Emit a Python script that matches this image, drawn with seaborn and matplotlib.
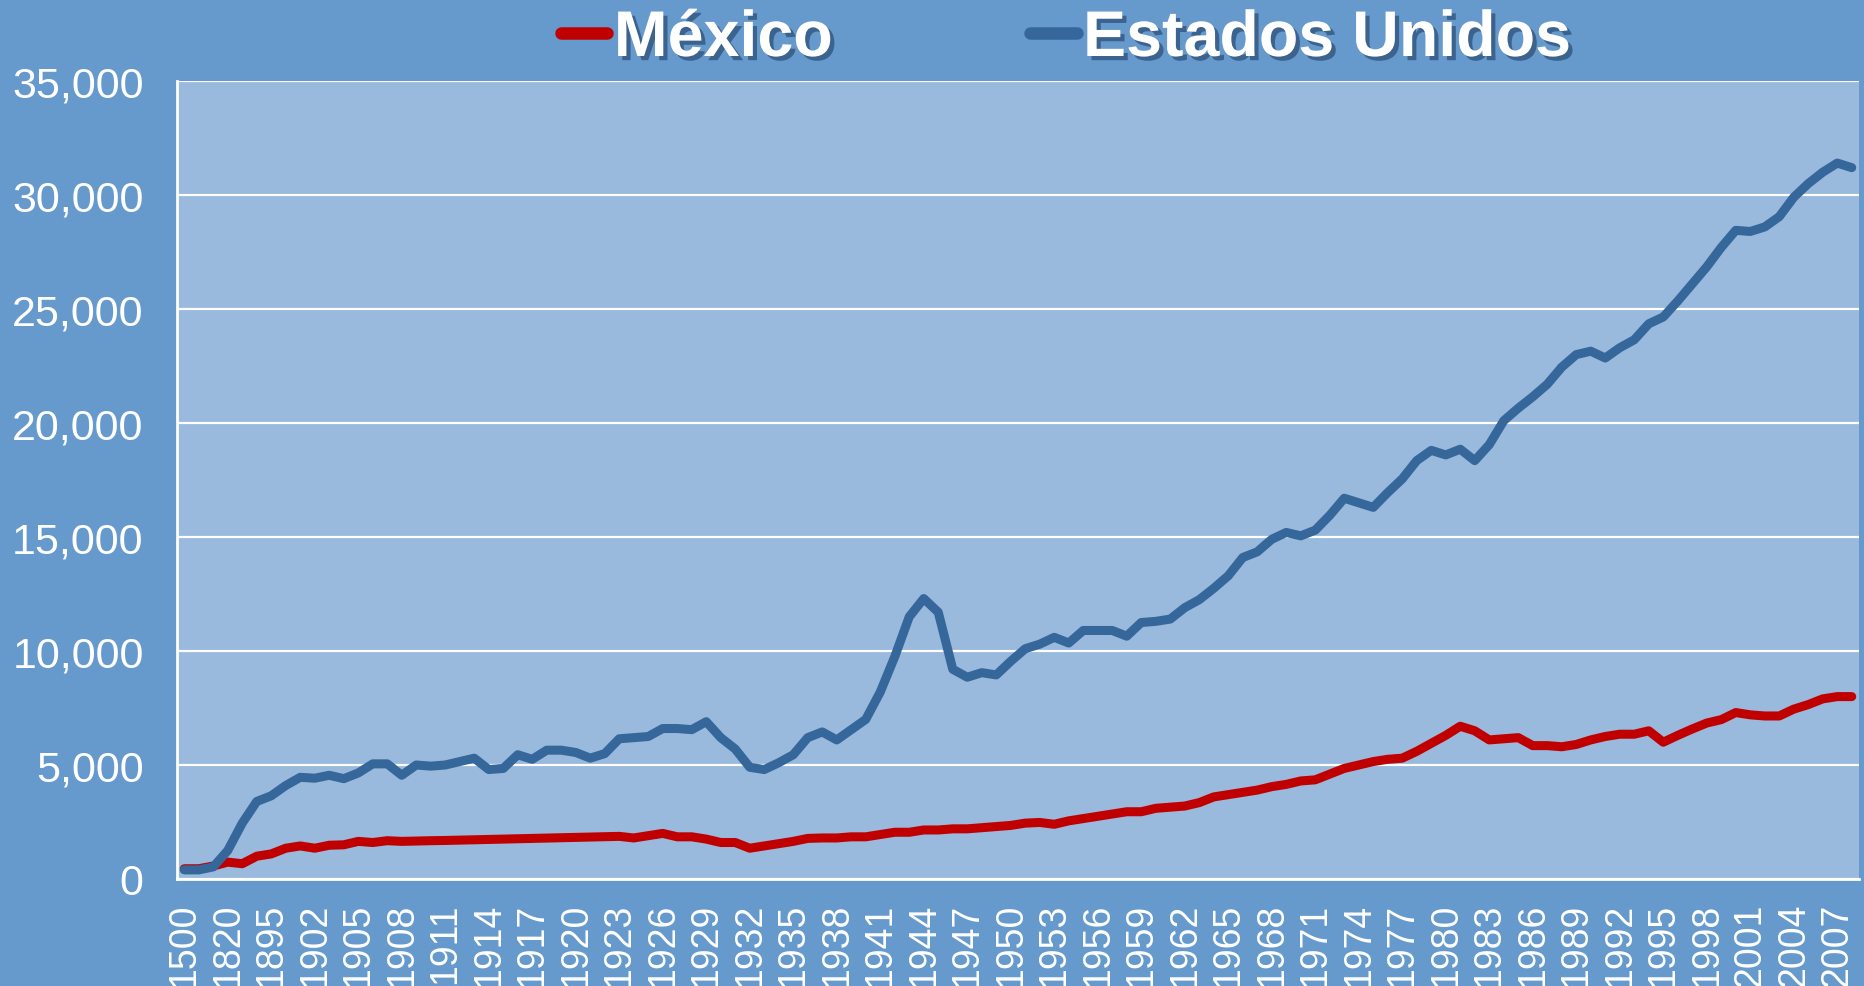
import numpy as np
import pandas as pd
import matplotlib.pyplot as plt
import matplotlib.patheffects as pe
from matplotlib.lines import Line2D
from matplotlib.ticker import FuncFormatter
import seaborn as sns


# Categories on the x axis (first ones are benchmark years, then yearly).
YEARS = ["1500", "1600", "1700", "1820", "1870", "1890", "1895", "1900", "1901"] + [
    str(y) for y in range(1902, 2009)
]

MEXICO = [
    450, 450, 570, 740, 670, 1000, 1100, 1350, 1450,
    1350, 1480, 1500, 1650, 1600, 1680, 1650, 1665, 1680, 1690,  # 1902-1911
    1705, 1720, 1735, 1750, 1765, 1780, 1795, 1810, 1825, 1840,  # 1912-1921
    1855, 1870, 1800, 1900, 2000, 1850, 1850, 1750, 1600, 1600,  # 1922-1931
    1350, 1450, 1550, 1650, 1780, 1800, 1800, 1850, 1850, 1950,  # 1932-1941
    2050, 2050, 2150, 2150, 2200, 2200, 2250, 2300, 2350, 2450,  # 1942-1951
    2480, 2400, 2550, 2650, 2750, 2850, 2950, 2950, 3100, 3150,  # 1952-1961
    3200, 3350, 3600, 3700, 3800, 3900, 4050, 4150, 4300, 4350,  # 1962-1971
    4600, 4850, 5000, 5150, 5250, 5300, 5600, 5950, 6300, 6700,  # 1972-1981
    6500, 6100, 6150, 6200, 5850, 5850, 5800, 5900, 6100, 6250,  # 1982-1991
    6350, 6350, 6500, 6000, 6300, 6580, 6840, 6990, 7300, 7200,  # 1992-2001
    7150, 7150, 7450, 7650, 7900, 8000, 8000,                    # 2002-2008
]

ESTADOS_UNIDOS = [
    400, 400, 530, 1250, 2450, 3400, 3650, 4100, 4460,
    4420, 4550, 4400, 4650, 5050, 5050, 4550, 5000, 4950, 5000,  # 1902-1911
    5150, 5300, 4800, 4850, 5450, 5250, 5650, 5650, 5550, 5300,  # 1912-1921
    5500, 6150, 6200, 6250, 6600, 6600, 6550, 6900, 6200, 5700,  # 1922-1931
    4900, 4800, 5100, 5450, 6200, 6450, 6100, 6550, 7000, 8200,  # 1932-1941
    9750, 11500, 12300, 11700, 9200, 8850, 9050, 8950, 9550, 10100,  # 1942-1951
    10300, 10600, 10350, 10900, 10900, 10900, 10650, 11250, 11300, 11400,  # 1952-1961
    11900, 12250, 12750, 13300, 14100, 14350, 14900, 15200, 15050, 15300,  # 1962-1971
    15950, 16700, 16500, 16300, 16950, 17550, 18350, 18800, 18600, 18850,  # 1972-1981
    18350, 19050, 20100, 20650, 21150, 21700, 22450, 23000, 23150, 22850,  # 1982-1991
    23300, 23650, 24350, 24650, 25350, 26100, 26850, 27700, 28450, 28400,  # 1992-2001
    28600, 29050, 29900, 30500, 31000, 31400, 31200,                       # 2002-2008
]

SERIES = ["México", "Estados Unidos"]
COLORS = {"México": "#C00000", "Estados Unidos": "#35679B"}
BG_OUTER = "#6699CC"
BG_PLOT = "#99B9DD"

sns.set_style("white")
plt.rcParams["font.family"] = ["Liberation Sans", "DejaVu Sans"]

n = len(YEARS)
df = pd.DataFrame({
    "idx": np.tile(np.arange(n), 2),
    "valor": MEXICO + ESTADOS_UNIDOS,
    "pais": np.repeat(SERIES, n),
})

fig = plt.figure(figsize=(18.64, 9.87), dpi=100, facecolor=BG_OUTER)
ax = fig.add_axes([177 / 1864, 107 / 987, 1682 / 1864, 798 / 987])
ax.set_facecolor(BG_PLOT)

sns.lineplot(
    data=df, x="idx", y="valor", hue="pais", hue_order=SERIES,
    palette=COLORS, linewidth=6.5, legend=False, ax=ax,
    solid_capstyle="round", solid_joinstyle="round",
)

ax.set_xlim(-0.5, n - 0.5)
ax.set_ylim(0, 35000)
ax.set_yticks(np.arange(0, 35001, 5000))
ax.yaxis.set_major_formatter(FuncFormatter(lambda v, _: f"{v:,.0f}"))
ax.grid(axis="y", color="white", linewidth=1.6)
ax.set_axisbelow(True)

# Labels every third category, tick marks on every category boundary.
lab_pos = np.arange(0, n, 3)
ax.set_xticks(lab_pos)
ax.set_xticklabels([YEARS[i] for i in lab_pos], rotation=90)
ax.set_xticks(np.arange(n + 1) - 0.5, minor=True)
ax.tick_params(axis="x", which="major", length=0, pad=17, labelsize=27, colors="white")
ax.tick_params(axis="x", which="minor", length=7, width=1.5, color="white", direction="out")
ax.tick_params(axis="y", length=0, pad=24, labelsize=31, labelcolor="white")
ax.set_xlabel("")
ax.set_ylabel("")

for side in ["top", "right"]:
    ax.spines[side].set_visible(False)
for side in ["left", "bottom"]:
    ax.spines[side].set_color("white")
    ax.spines[side].set_linewidth(2)

handles = [Line2D([], [], color=COLORS[s], linewidth=9, solid_capstyle="round") for s in SERIES]
leg = fig.legend(
    handles, SERIES, loc="center", bbox_to_anchor=(1066 / 1864, 1 - 40 / 987),
    ncol=2, frameon=False, handlelength=0.72, handletextpad=0.1, columnspacing=3.05,
    prop={"family": "Liberation Sans", "weight": "bold", "size": 46.5},
)
for t in leg.get_texts():
    t.set_color("white")
    t.set_path_effects([pe.withSimplePatchShadow(offset=(3, -3), shadow_rgbFace="#1F3F66", alpha=0.6)])

fig.savefig("out.png", dpi=100, facecolor=BG_OUTER)
